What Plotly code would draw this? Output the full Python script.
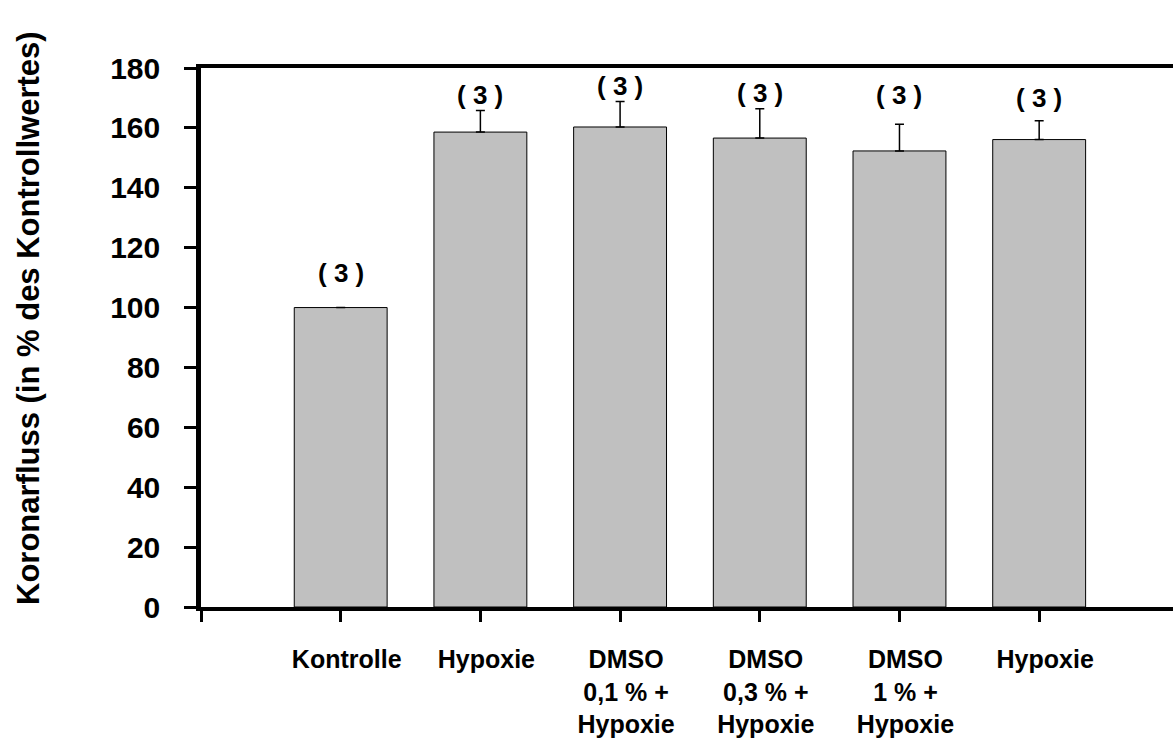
import plotly.graph_objects as go

# ---- data ----
categories = ["Kontrolle", "Hypoxie", "DMSO<br>0,1 % +<br>Hypoxie",
              "DMSO<br>0,3 % +<br>Hypoxie", "DMSO<br>1 % +<br>Hypoxie", "Hypoxie"]
values = [100.0, 158.6, 160.3, 156.6, 152.3, 156.1]
errors_plus = [0.0, 7.2, 8.5, 9.8, 8.9, 6.3]
n_labels = ["( 3 )", "( 3 )", "( 3 )", "( 3 )", "( 3 )", "( 3 )"]
n_label_y = [111.7, 171.0, 174.0, 171.6, 171.0, 170.0]
y_ticks = [0, 20, 40, 60, 80, 100, 120, 140, 160, 180]
y_title = "Koronarfluss (in % des Kontrollwertes)"

positions = list(range(1, len(categories) + 1))

FONT = "Liberation Sans, Arial, sans-serif"

fig = go.Figure()
fig.add_trace(go.Bar(
    x=positions, y=values, width=0.665,
    marker=dict(color="#c0c0c0", line=dict(color="black", width=1)),
    error_y=dict(type="data", symmetric=False, array=errors_plus,
                 arrayminus=[0] * len(values), color="black",
                 thickness=1.5, width=4.5),
    showlegend=False,
))

for xp, yl, t in zip(positions, n_label_y, n_labels):
    fig.add_annotation(x=xp, y=yl, text="<b>" + t + "</b>", showarrow=False,
                       xanchor="center", yanchor="middle",
                       font=dict(family=FONT, size=26, color="black"))

fig.add_annotation(xref="paper", yref="paper", x=(28 - 201) / 972, y=(607 - 318) / 539,
                   text="<b>" + y_title + "</b>", textangle=-90, showarrow=False,
                   xanchor="center", yanchor="middle",
                   font=dict(family=FONT, size=31, color="black"))

fig.update_layout(
    width=1173, height=738,
    margin=dict(l=201, r=0, t=68, b=131),
    plot_bgcolor="white", paper_bgcolor="white",
    bargap=0.3,
)
fig.update_xaxes(
    range=[0, 6.958], automargin=False,
    tickmode="array", tickvals=[0] + positions,
    ticktext=[""] + ["<b>" + c + "</b>" for c in categories],
    tickfont=dict(family=FONT, size=25, color="black"),
    ticks="outside", ticklen=11, tickwidth=2.5, tickcolor="black",
    showline=True, linewidth=4, linecolor="black", mirror=True,
    showgrid=False, zeroline=False, ticklabelstandoff=16, ticklabelshift=6,
)
fig.update_yaxes(
    range=[0, 180], automargin=False,
    tickmode="array", tickvals=y_ticks,
    ticktext=["<b>%d</b>" % v for v in y_ticks],
    tickfont=dict(family=FONT, size=30, color="black"),
    ticks="outside", ticklen=12, tickwidth=2.5, tickcolor="black",
    showline=True, linewidth=4.5, linecolor="black",
    showgrid=False, zeroline=False, ticklabelstandoff=18,
)

fig.write_html("out.html", config={"displayModeBar": False},
               post_script="document.body.style.margin='0';")
